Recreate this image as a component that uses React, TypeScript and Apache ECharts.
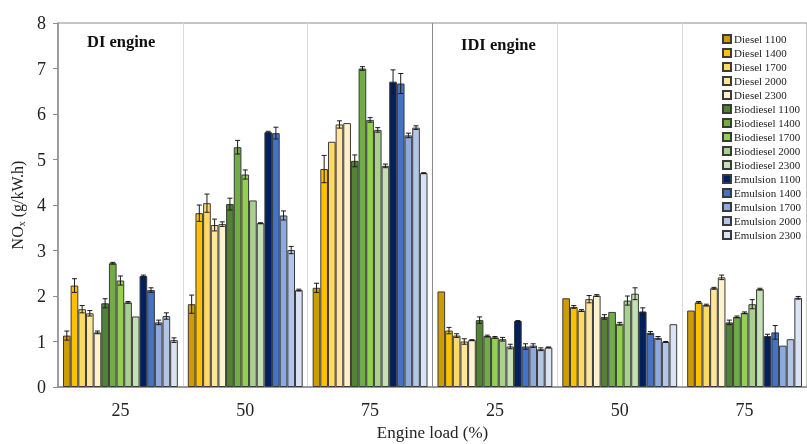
import React, { useEffect, useRef } from "react";
import * as echarts from "echarts";

const categories = ["25", "50", "75", "25", "50", "75"];
const seriesNames = [
  "Diesel 1100", "Diesel 1400", "Diesel 1700", "Diesel 2000", "Diesel 2300",
  "Biodiesel 1100", "Biodiesel 1400", "Biodiesel 1700", "Biodiesel 2000", "Biodiesel 2300",
  "Emulsion 1100", "Emulsion 1400", "Emulsion 1700", "Emulsion 2000", "Emulsion 2300",
];
const seriesColors = [
  "#CC9C00", "#FFC000", "#FFD966", "#FFE699", "#FFF2CC",
  "#548235", "#70AD47", "#92D050", "#A9D08E", "#C5E0B4",
  "#002060", "#4472C4", "#8EA9DB", "#B4C6E7", "#DAE3F3",
];

const diesel1100 = [1.13, 1.82, 2.18, 2.10, 1.95, 1.68];
const diesel1400 = [2.23, 3.82, 4.79, 1.24, 1.76, 1.86];
const diesel1700 = [1.71, 4.04, 5.39, 1.13, 1.68, 1.80];
const diesel2000 = [1.62, 3.56, 5.77, 1.00, 1.93, 2.17];
const diesel2300 = [1.20, 3.58, 5.80, 1.03, 2.01, 2.41];
const bio1100 = [1.84, 4.02, 4.97, 1.47, 1.54, 1.42];
const bio1400 = [2.72, 5.27, 7.00, 1.12, 1.65, 1.54];
const bio1700 = [2.34, 4.67, 5.87, 1.09, 1.39, 1.63];
const bio2000 = [1.86, 4.10, 5.65, 1.05, 1.90, 1.82];
const bio2300 = [1.55, 3.60, 4.86, 0.89, 2.05, 2.15];
const emul1100 = [2.44, 5.60, 6.71, 1.45, 1.66, 1.12];
const emul1400 = [2.13, 5.58, 6.67, 0.89, 1.19, 1.20];
const emul1700 = [1.42, 3.77, 5.53, 0.91, 1.08, 0.91];
const emul2000 = [1.56, 3.01, 5.70, 0.83, 0.99, 1.05];
const emul2300 = [1.03, 2.13, 4.70, 0.87, 1.38, 1.96];

const err_diesel1100 = [0.10, 0.20, 0.10, 0, 0, 0];
const err_diesel1400 = [0.15, 0.18, 0.30, 0.07, 0.03, 0.02];
const err_diesel1700 = [0.08, 0.20, 0, 0.04, 0.02, 0.02];
const err_diesel2000 = [0.06, 0.13, 0.08, 0.06, 0.08, 0.02];
const err_diesel2300 = [0.03, 0.05, 0, 0.01, 0.02, 0.05];
const err_bio1100 = [0.10, 0.13, 0.13, 0.07, 0.05, 0.05];
const err_bio1400 = [0.02, 0.15, 0.04, 0.02, 0, 0.02];
const err_bio1700 = [0.10, 0.10, 0.05, 0.02, 0.03, 0.02];
const err_bio2000 = [0.02, 0, 0.05, 0.04, 0.10, 0.10];
const err_bio2300 = [0, 0.01, 0.04, 0.05, 0.13, 0.02];
const err_emul1100 = [0.02, 0.02, 0.26, 0.01, 0.08, 0.04];
const err_emul1400 = [0.05, 0.13, 0.22, 0.06, 0.03, 0.15];
const err_emul1700 = [0.05, 0.10, 0.05, 0.04, 0.03, 0];
const err_emul2000 = [0.07, 0.08, 0.04, 0.03, 0.01, 0];
const err_emul2300 = [0.05, 0.02, 0.01, 0.01, 0, 0.03];

const yTicks = { min: 0, max: 8, interval: 1 };

const allValues = [
  diesel1100, diesel1400, diesel1700, diesel2000, diesel2300,
  bio1100, bio1400, bio1700, bio2000, bio2300,
  emul1100, emul1400, emul1700, emul2000, emul2300,
];
const allErrors = [
  err_diesel1100, err_diesel1400, err_diesel1700, err_diesel2000, err_diesel2300,
  err_bio1100, err_bio1400, err_bio1700, err_bio2000, err_bio2300,
  err_emul1100, err_emul1400, err_emul1700, err_emul2000, err_emul2300,
];

const FONT = "Liberation Serif";
const CAT_GAP = 0.08;

export default function App() {
  const ref = useRef<HTMLDivElement>(null);
  useEffect(() => {
    if (!ref.current) return;
    const chart = echarts.init(ref.current, null, { renderer: "svg" });
    const nSeries = seriesNames.length;

    const errData: number[][] = [];
    allValues.forEach((vals, s) => {
      vals.forEach((v, c) => {
        errData.push([c, s, v, allErrors[s][c]]);
      });
    });

    const barSeries = seriesNames.map((name, i) => ({
      name,
      type: "bar",
      data: allValues[i],
      barGap: "0%",
      barCategoryGap: CAT_GAP * 100 + "%",
      itemStyle: { color: seriesColors[i], borderColor: "#3a3a3a", borderWidth: 1 },
      emphasis: { disabled: true },
    }));

    const errSeries = {
      type: "custom",
      name: "err",
      data: errData,
      encode: { x: 0, y: 2 },
      z: 10,
      silent: true,
      renderItem: (params: any, api: any) => {
        const cat = api.value(0);
        const s = api.value(1);
        const v = api.value(2);
        const e = api.value(3);
        if (!e) return null;
        const band = api.size([1, 0])[0];
        const groupW = band * (1 - CAT_GAP);
        const bw = groupW / nSeries;
        const cx = api.coord([cat, v])[0] - groupW / 2 + (s + 0.5) * bw;
        const top = api.coord([cat, v + e])[1];
        const bot = api.coord([cat, v - e])[1];
        const cap = 2.5;
        const style = { stroke: "#1a1a1a", lineWidth: 1 };
        return {
          type: "group",
          children: [
            { type: "line", shape: { x1: cx, y1: top, x2: cx, y2: bot }, style },
            { type: "line", shape: { x1: cx - cap, y1: top, x2: cx + cap, y2: top }, style },
            { type: "line", shape: { x1: cx - cap, y1: bot, x2: cx + cap, y2: bot }, style },
          ],
        };
      },
    };

    chart.setOption({
      animation: false,
      textStyle: { fontFamily: FONT },
      grid: {
        left: 58, right: 0, top: 23, bottom: 57,
        outerBoundsMode: "none",
        containLabel: false,
        show: true, borderColor: "#8c8c8c", borderWidth: 1,
      },
      legend: {
        data: seriesNames,
        orient: "vertical",
        left: 717,
        top: 28,
        itemWidth: 8,
        itemHeight: 8,
        itemGap: 2,
        icon: "rect",
        textStyle: { fontFamily: FONT, fontSize: 11, color: "#222", padding: [0, 0, 0, -2], lineHeight: 12 },
        selectedMode: false,
      },
      xAxis: {
        type: "category",
        data: categories,
        axisTick: { show: false },
        axisLine: { lineStyle: { color: "#8c8c8c", width: 1.5 } },
        axisLabel: { fontFamily: FONT, fontSize: 18, color: "#222", margin: 14 },
        splitLine: {
          show: true,
          lineStyle: {
            color: ["#d9d9d9", "#d9d9d9", "#d9d9d9", "#8c8c8c", "#d9d9d9", "#d9d9d9", "#d9d9d9"],
            width: 1,
          },
        },
        name: "Engine load (%)",
        nameLocation: "middle",
        nameGap: 37,
        nameTextStyle: { fontFamily: FONT, fontSize: 17, color: "#222" },
      },
      yAxis: {
        type: "value",
        min: yTicks.min,
        max: yTicks.max,
        interval: yTicks.interval,
        axisLine: { show: true, lineStyle: { color: "#8c8c8c", width: 1.5 } },
        axisTick: { show: true, length: 5, lineStyle: { color: "#8c8c8c" } },
        splitLine: { show: false },
        axisLabel: { fontFamily: FONT, fontSize: 18, color: "#222", margin: 12 },
        name: "{a|NO}{b|x}{a| (g/kW.h)}",
        nameLocation: "middle",
        nameGap: 29,
        nameRotate: 90,
        nameTextStyle: {
          fontFamily: FONT,
          color: "#222",
          rich: {
            a: { fontFamily: FONT, fontSize: 16, color: "#222" },
            b: { fontFamily: FONT, fontSize: 10, color: "#222", padding: [8, 0, 0, 0] },
          },
        },
      },
      graphic: [
        {
          type: "text",
          left: 87,
          top: 33,
          style: { text: "DI engine", fontFamily: FONT, fontSize: 16.5, fontWeight: "bold", fill: "#111" },
        },
        {
          type: "text",
          left: 461,
          top: 36,
          style: { text: "IDI engine", fontFamily: FONT, fontSize: 16.5, fontWeight: "bold", fill: "#111" },
        },
      ],
      series: [...barSeries, errSeries],
    });
    return () => chart.dispose();
  }, []);
  return <div ref={ref} style={{ position: "fixed", left: 0, top: 0, width: 807, height: 444 }} />;
}
